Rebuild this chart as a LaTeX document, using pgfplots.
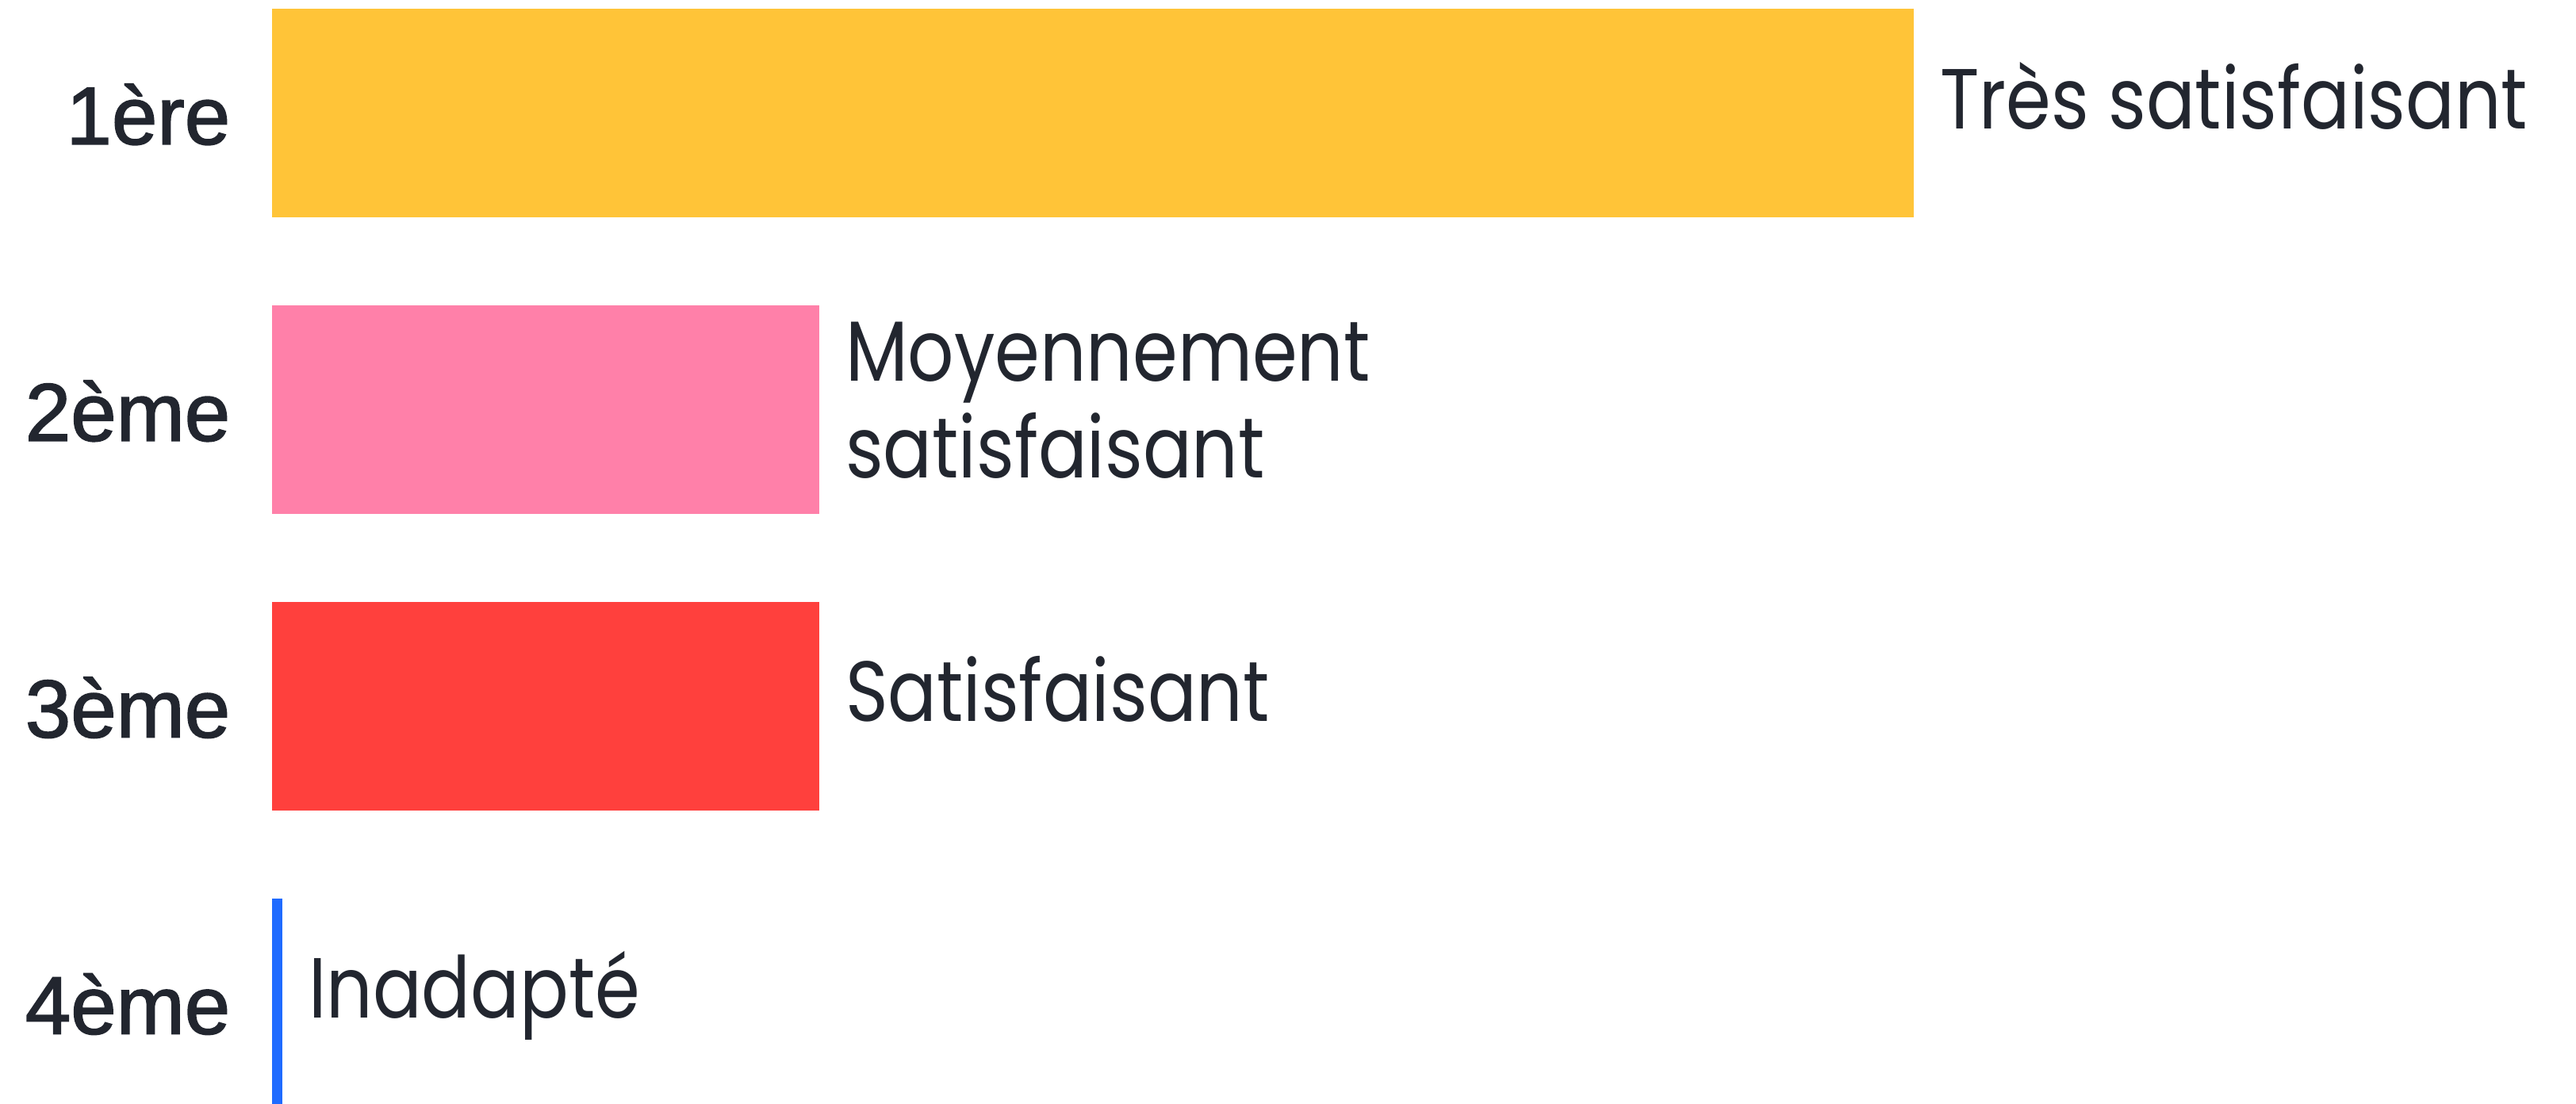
\documentclass[border=0pt]{standalone}
\usepackage{pgfplots}
\pgfplotsset{compat=1.18}
\usepackage{fontspec}
\setmainfont{Liberation Sans}
\newfontfamily\catfont[FakeBold=1.6]{Liberation Sans}
\newfontfamily\labfont[FakeStretch=0.85]{Poppins}
\definecolor{textc}{HTML}{22262F}
\definecolor{cyellow}{HTML}{FFC438}
\definecolor{cpink}{HTML}{FF80A9}
\definecolor{cred}{HTML}{FF403D}
\definecolor{cblue}{HTML}{1F6BFF}
\begin{document}
\begin{tikzpicture}
\begin{axis}[
  scale only axis,
  width=413.3pt, height=198.0pt,
  xbar, bar width=37.4pt, bar shift=0pt,
  xmin=0, xmax=4.2101,
  ymin=-0.381, ymax=3.341,
  y dir=reverse,
  axis lines=left,
  axis line style={draw=none},
  xtick=\empty,
  ytick={0,1,2,3},
  yticklabels={1ère,2ème,3ème,4ème},
  ytick style={draw=none},
  major tick length=0pt,
  yticklabel style={font=\catfont\fontsize{14.7}{16}\selectfont, text=textc, inner sep=0pt, anchor=base east, yshift=-5.6pt, xshift=-7.3pt},
  every node near coord/.append style={font=\labfont\fontsize{15.3}{17.4}\selectfont, text=textc, inner sep=0pt, anchor=base west, xshift=4.5pt, yshift=-2.8pt, align=left},
]
\addplot[fill=cyellow, draw=none, nodes near coords={Très satisfaisant}] coordinates {(3,0)};
\addplot[fill=cpink, draw=none, nodes near coords={Moyennement\\satisfaisant}, every node near coord/.append style={yshift=-9.5pt}] coordinates {(1,1)};
\addplot[fill=cred, draw=none, nodes near coords={Satisfaisant}] coordinates {(1,2)};
\addplot[fill=cblue, draw=none, nodes near coords={Inadapté}] coordinates {(0.019,3)};
\end{axis}
\path (current axis.south west) ++(-48.8pt,0);
\end{tikzpicture}
\end{document}
